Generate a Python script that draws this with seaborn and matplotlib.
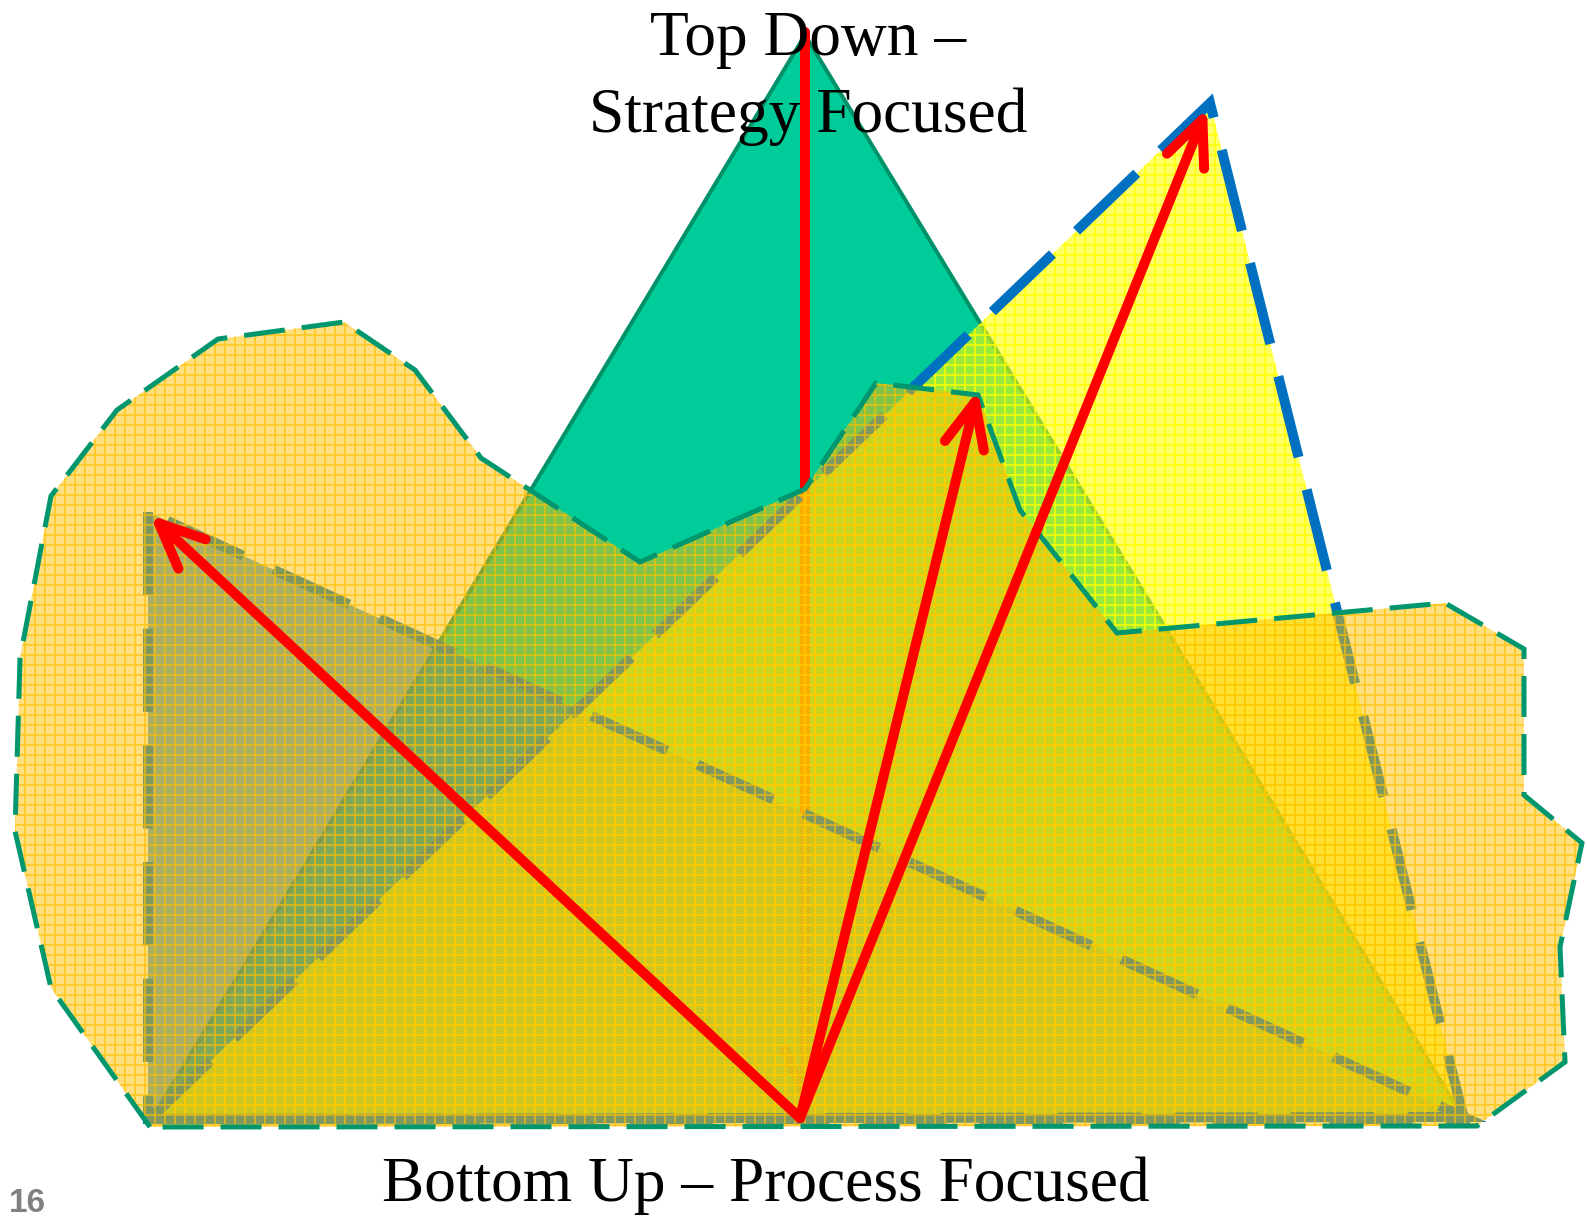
import numpy as np
import seaborn as sns
import matplotlib.pyplot as plt
from matplotlib.patches import Polygon, FancyArrowPatch, ArrowStyle

# shapes, in picture coordinates (x to the right, y downwards)
green_x = [150, 805, 1464]
green_y = [1122, 35, 1119]

blue_x = [148, 148, 1464]
blue_y = [512, 1119, 1117]

yellow_x = [150, 1210, 1464]
yellow_y = [1119, 103, 1119]

blob_x = [150, 51, 15, 20, 51, 117, 218, 344, 415, 481, 640, 805, 876, 978,
          1020, 1117, 1445, 1524, 1524, 1582, 1560, 1565, 1477]
blob_y = [1127, 988, 831, 658, 496, 410, 339, 322, 370, 458, 562, 489, 383, 395,
          510, 633, 603, 649, 795, 843, 947, 1062, 1126]

# red arrows
hub_x, hub_y = 800, 1118
tip_x = [150, 978, 1207]
tip_y = [515, 390, 108]
down_x = [805, 805]
down_y = [32, 1108]

top_label = ["Top Down \u2013", "Strategy Focused"]
bottom_label = "Bottom Up \u2013 Process Focused"
page_no = "16"

sns.set_theme(style="white")
plt.rcParams['lines.scale_dashes'] = False
plt.rcParams['hatch.linewidth'] = 1.0

W, H, DPI = 1587, 1216, 120
fig = plt.figure(figsize=(W / DPI, H / DPI), dpi=DPI)
ax = fig.add_axes([0, 0, 1, 1])
ax.set_xlim(0, W)
ax.set_ylim(H, 0)
ax.axis("off")

def rgb(r, g, b, a=1.0):
    return (r / 255, g / 255, b / 255, a)

def pts(xs, ys):
    return np.column_stack([xs, ys])

# green peak
ax.add_patch(Polygon(pts(green_x, green_y), closed=True, facecolor=rgb(0, 204, 153),
                     edgecolor=rgb(0, 145, 105), lw=2.4, joinstyle="miter", zorder=1))

def red_arrow(x0, y0, x1, y1, z):
    a = FancyArrowPatch((x0, y0), (x1, y1),
                        arrowstyle=ArrowStyle("->", head_length=27, head_width=12),
                        mutation_scale=1, color=rgb(255, 0, 0), lw=6,
                        shrinkA=0, shrinkB=0, zorder=z)
    a.set_capstyle("round")
    a.set_joinstyle("round")
    ax.add_patch(a)

# vertical top-down arrow sits under the overlays
red_arrow(down_x[0], down_y[0], down_x[1], down_y[1], 1.5)

# blue triangle + yellow triangle fills
ax.add_patch(Polygon(pts(blue_x, blue_y), closed=True, facecolor=rgb(0, 112, 192, 0.67),
                     lw=0, zorder=2))
ax.add_patch(Polygon(pts(yellow_x, yellow_y), closed=True, facecolor=rgb(255, 255, 0, 0.6),
                     edgecolor=rgb(255, 255, 0, 0.9), lw=0, hatch="++", zorder=3))

blue_dash = (0, (50, 20))
for xs, ys in [(blue_x, blue_y), (yellow_x, yellow_y)]:
    ax.add_patch(Polygon(pts(xs, ys), closed=True, fill=False, edgecolor=rgb(0, 112, 192),
                         lw=6, linestyle=blue_dash, zorder=3.5))

# orange patterned blob on top
ax.add_patch(Polygon(pts(blob_x, blob_y), closed=True, facecolor=rgb(255, 192, 0, 0.5),
                     edgecolor=rgb(255, 192, 0, 0.75), lw=0, hatch="++", zorder=4))
ax.add_patch(Polygon(pts(blob_x, blob_y), closed=True, fill=False, edgecolor=rgb(0, 150, 110),
                     lw=3, linestyle=(0, (24.6, 10.2)), zorder=4.5))

for tx, ty in zip(tip_x, tip_y):
    red_arrow(hub_x, hub_y, tx, ty, 5)

serif = ["Liberation Serif", "DejaVu Serif"]
ax.text(808, 55, top_label[0], ha="center", va="baseline", fontsize=38,
        family=serif, color="black", zorder=6)
ax.text(808, 132, top_label[1], ha="center", va="baseline", fontsize=38,
        family=serif, color="black", zorder=6)
ax.text(766, 1201, bottom_label, ha="center", va="baseline", fontsize=38,
        family=serif, color="black", zorder=6)
ax.text(9, 1212, page_no, ha="left", va="baseline", fontsize=20, fontweight="bold",
        family=["Liberation Sans", "DejaVu Sans"], color="#808080", zorder=6)

fig.savefig("out.png", dpi=DPI)
